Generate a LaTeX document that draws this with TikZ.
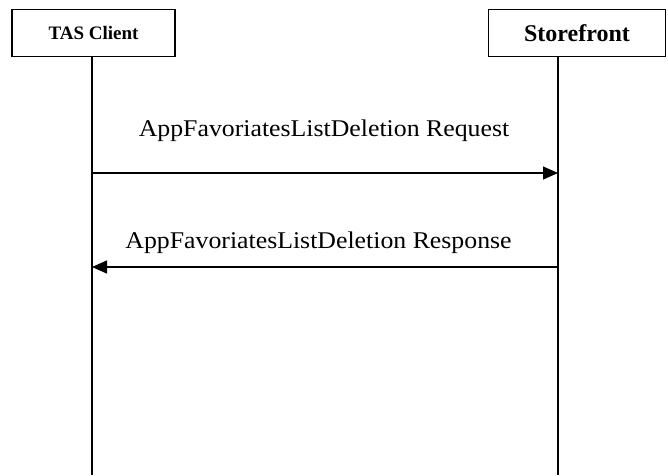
\documentclass[tikz,border=0pt]{standalone}
\usepackage{fontspec}
\setmainfont{Liberation Serif}
\usetikzlibrary{arrows.meta}
\begin{document}
\begin{tikzpicture}[x=1pt,y=-1pt,
  actor/.style={draw,line width=1.2pt,minimum height=47pt,inner sep=0pt,font=\bfseries},
  life/.style={line width=1.2pt},
  msg/.style={line width=1.2pt,-{Triangle[length=15pt,width=13pt]}},
  lbl/.style={font=\fontsize{24}{27}\selectfont,inner sep=0pt,anchor=base}]
\useasboundingbox (0,0) rectangle (668,475);
\node[actor,minimum width=163pt,font=\bfseries\fontsize{19}{22}\selectfont] (tas) at (93.5,33) {TAS Client};
\node[actor,minimum width=177pt,font=\bfseries\fontsize{24}{28}\selectfont] (sf) at (577,33) {Storefront};
\coordinate (tasend) at (92,475);
\coordinate (sfend) at (558,475);
\draw[life] (tas.south -| tasend) -- (tasend);
\draw[life] (sf.south -| sfend) -- (sfend);
\coordinate (a1s) at (92,173);
\coordinate (a1e) at (558,173);
\coordinate (a2s) at (558,267);
\coordinate (a2e) at (92,267);
\draw[msg] (a1s) -- (a1e);
\draw[msg] (a2s) -- (a2e);
\node[lbl] (m1) at (324,136) {\scalebox{1.075}[1]{AppFavoriatesListDeletion Request}};
\node[lbl] (m2) at (318.5,248) {\scalebox{1.075}[1]{AppFavoriatesListDeletion Response}};
\end{tikzpicture}
\end{document}
